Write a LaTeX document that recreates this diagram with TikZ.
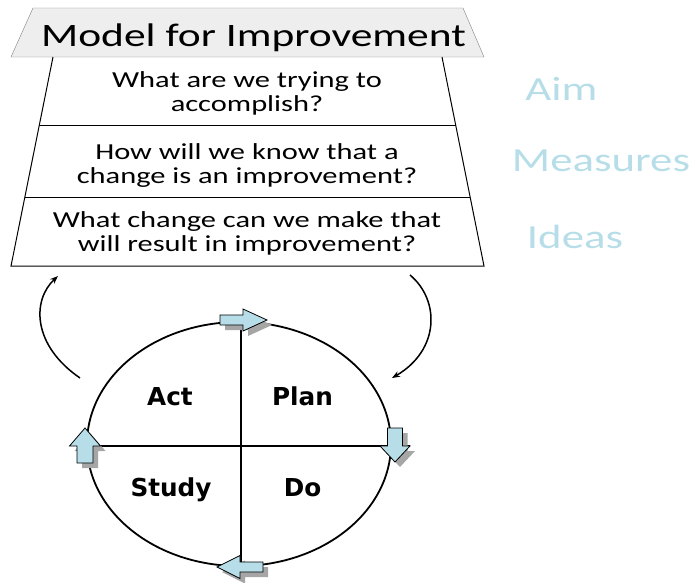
\documentclass[tikz,border=0pt]{standalone}
\usepackage{fontspec}
\setmainfont[FakeStretch=1.33]{Carlito}
\newfontfamily\cyclefont{DejaVu Sans}
\usetikzlibrary{arrows.meta,calc,shapes.geometric}
\definecolor{aqua}{HTML}{B7DEE8}
\definecolor{headgray}{HTML}{EEEEEE}
\tikzset{
    question/.style={align=center,font=\fontsize{22.9}{24}\selectfont},
    tag/.style={anchor=base,text=aqua,font=\fontsize{33.7}{36}\selectfont},
    phase/.style={anchor=base,font=\cyclefont\bfseries\fontsize{24.7}{26}\selectfont},
    loop/.style={line width=1.5pt,-{Stealth[length=8pt,width=6pt]}},
    pics/blockarrow/.style n args={4}{code={
        \path[pic actions] (-#1,-#2) -- (0,-#2) -- (0,-#4) -- (#3,0) -- (0,#4) -- (0,#2) -- (-#1,#2) -- cycle;
    }}
}
\begin{document}
\begin{tikzpicture}[x=1pt,y=-1pt]
    \useasboundingbox (0,0) rectangle (693,582);
    % model for improvement
    \draw[gray,fill=headgray] (33,8) -- (463,8) -- (484,57) -- (11,57) -- cycle;
    \node[anchor=base,font=\fontsize{32.7}{34}\selectfont] (title) at (253.5,46) {Model for Improvement};
    \coordinate (tl) at (53,57); \coordinate (tr) at (442,57);
    \coordinate (bl) at (11,266); \coordinate (br) at (484,266);
    \draw[line width=1pt] (tl) -- (bl) -- (br) -- (tr);
    \draw[line width=1pt] ($(tl)!0.33!(bl)$) -- ($(tr)!0.33!(br)$);
    \draw[line width=1pt] ($(tl)!0.67!(bl)$) -- ($(tr)!0.67!(br)$);
    \node[question] (aimq) at (247,93.5) {What are we trying to\\accomplish?};
    \node[question] (measq) at (247,165.5) {How will we know that a\\change is an improvement?};
    \node[question] (ideaq) at (247,233.5) {What change can we make that\\will result in improvement?};
    \node[tag] (aim) at (561.5,100.5) {Aim};
    \node[tag] (meas) at (601,171.5) {Measures};
    \node[tag] (idea) at (575,248) {Ideas};
    % pdsa cycle
    \node[draw,ellipse,line width=1.8pt,minimum width=304,minimum height=244,inner sep=0] (cycle) at (239,444) {};
    \draw[line width=1.8pt] (cycle.north) ++(2,0) coordinate (ctop) -- (ctop |- cycle.south);
    \draw[line width=1.8pt] (cycle.west) ++(0,2) coordinate (cleft) -- (410,446);
    \node[phase] (act) at (170,405) {Act};
    \node[phase] (plan) at (302.5,405) {Plan};
    \node[phase] (study) at (171,496) {Study};
    \node[phase] (do) at (302.5,496) {Do};
    \foreach \px/\py/\ang/\sl/\sw/\hl/\hw in {243/320/0/23/5/24/11, 395/446/-90/18/7.5/16/15, 240/567/180/23/5/23/11.5, 85/446/90/17/8/18/15.5} {
        \pic[fill=gray!70,shift={(5,5)},rotate=\ang] at (\px,\py) {blockarrow={\sl}{\sw}{\hl}{\hw}};
        \pic[draw,fill=aqua,line width=0.8pt,rotate=\ang] at (\px,\py) {blockarrow={\sl}{\sw}{\hl}{\hw}};
    }
    % loops back to the questions
    \coordinate (backfrom) at (80,378); \coordinate (backto) at (58,276);
    \coordinate (nextfrom) at (410,275); \coordinate (nextto) at (392,378);
    \draw[loop] (backfrom) .. controls (32,345) and (32,300) .. (backto);
    \draw[loop] (nextfrom) .. controls (440,300) and (440,350) .. (nextto);
\end{tikzpicture}
\end{document}
